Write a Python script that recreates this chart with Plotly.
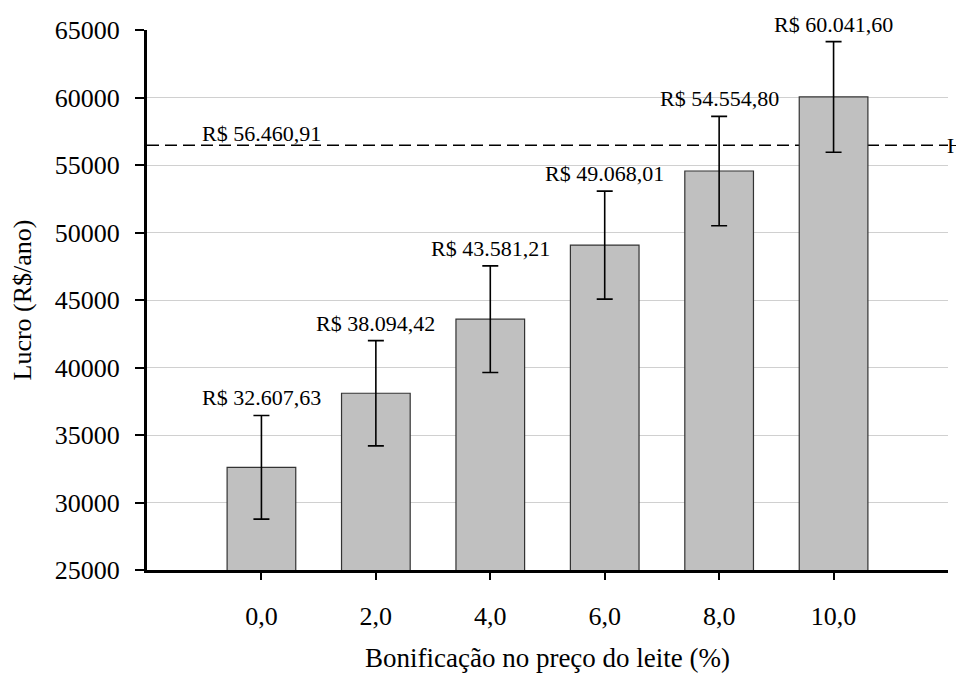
import plotly.graph_objects as go

# Data
bonus = [0, 2, 4, 6, 8, 10]
bonus_labels = ['0,0', '2,0', '4,0', '6,0', '8,0', '10,0']
lucro = [32607.63, 38094.42, 43581.21, 49068.01, 54554.80, 60041.60]
erro = [3840, 3900, 3950, 4000, 4050, 4100]
lucro_h = 56460.91

FONT = 'Liberation Serif'


def brl(v):
    # Brazilian currency format: R$ 12.345,67
    s = f"{v:,.2f}".replace(',', 'X').replace('.', ',').replace('X', '.')
    return f"R$ {s}"


fig = go.Figure()

fig.add_trace(go.Bar(
    x=bonus,
    y=lucro,
    width=1.2,
    marker=dict(color='#c0c0c0', line=dict(color='#333333', width=1.2)),
    error_y=dict(type='data', array=erro, color='black', thickness=1.6, width=8),
    showlegend=False,
    hoverinfo='skip'
))

# Reference line H (behind the bars)
fig.add_hline(
    y=lucro_h,
    line=dict(color='black', width=1.5, dash='12px,6px'),
    layer='below'
)

fig.add_annotation(
    x=0, y=lucro_h, xref='x', yref='y',
    text=brl(lucro_h), showarrow=False,
    yanchor='bottom', yshift=-3,
    font=dict(family=FONT, size=22, color='black')
)
fig.add_annotation(
    x=1, y=lucro_h, xref='paper', yref='y',
    text='H', showarrow=False,
    xanchor='left', yanchor='middle', xshift=-3,
    font=dict(family=FONT, size=22, color='black')
)

# Value labels above the error bars
for xv, yv, ev in zip(bonus, lucro, erro):
    fig.add_annotation(
        x=xv, y=yv + ev, xref='x', yref='y',
        text=brl(yv), showarrow=False,
        yanchor='bottom', yshift=3,
        font=dict(family=FONT, size=22, color='black')
    )

# page body has an 8px margin, so the figure is a bit smaller than the window
fig.update_layout(
    width=956,
    height=665,
    margin=dict(l=139, r=16, t=22, b=103),
    paper_bgcolor='white',
    plot_bgcolor='white',
    font=dict(family=FONT, color='black'),
    xaxis=dict(
        range=[-2, 12],
        tickvals=bonus,
        ticktext=bonus_labels,
        ticks='outside',
        ticklen=7,
        tickwidth=1.5,
        tickcolor='black',
        showline=True,
        linecolor='black',
        linewidth=3,
        showgrid=False,
        zeroline=False,
        automargin=False,
        tickfont=dict(family=FONT, size=26),
        ticklabelstandoff=14,
        title=dict(text='Bonificação no preço do leite (%)',
                   font=dict(family=FONT, size=27), standoff=18)
    ),
    yaxis=dict(
        range=[25000, 65000],
        dtick=5000,
        tickformat='d',
        ticks='outside',
        ticklen=9,
        tickwidth=1.5,
        tickcolor='black',
        showline=True,
        linecolor='black',
        linewidth=3,
        showgrid=True,
        gridcolor='#d0d0d0',
        gridwidth=1,
        zeroline=False,
        automargin=False,
        tickfont=dict(family=FONT, size=26),
        ticklabelstandoff=10,
        title=dict(text='Lucro (R$/ano)',
                   font=dict(family=FONT, size=26), standoff=20)
    )
)

fig.write_html("out.html")
